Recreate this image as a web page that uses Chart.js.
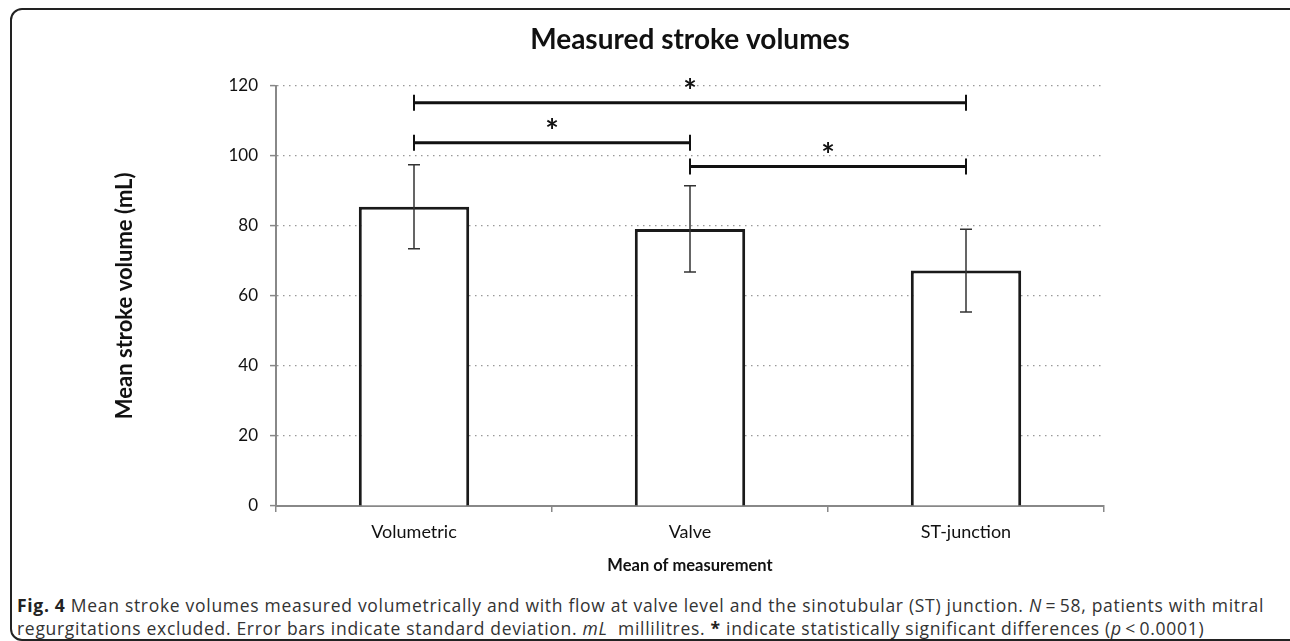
<!DOCTYPE html>
<html>
<head>
<meta charset="utf-8">
<script src="https://cdn.jsdelivr.net/npm/chart.js@4"></script>
<style>
    body { margin: 0; background: #fff; width: 1290px; height: 641px; overflow: hidden; position: relative; }
    .frame { position: absolute; left: 10px; top: 8px; width: 1300px; height: 633px; box-sizing: border-box;
             border: 2px solid #222; border-radius: 12px; }
    #wrap { position: absolute; left: 0; top: 0; width: 1290px; height: 590px; }
    .caption { position: absolute; left: 17px; font-family: 'Open Sans', sans-serif; font-size: 17.5px;
               letter-spacing: 0.7px; color: #333; white-space: nowrap; line-height: 22px; }
</style>
</head>
<body>
<div class="frame"></div>
<div id="wrap"><canvas id="chart"></canvas></div>
<div class="caption" style="top:594px"><b style="color:#222">Fig. 4</b> Mean stroke volumes measured volumetrically and with flow at valve level and the sinotubular (ST) junction. <i>N</i>&thinsp;=&thinsp;58, patients with mitral</div>
<div class="caption" style="top:617px">regurgitations excluded. Error bars indicate standard deviation. <i>mL</i>&nbsp; millilitres. <b style="color:#222">*</b> indicate statistically significant differences (<i>p</i>&thinsp;&lt;&thinsp;0.0001)</div>
<script>
    const categories = ['Volumetric', 'Valve', 'ST-junction'];
    const meanVolumes = [85.4, 79.1, 67.2];
    const sdVolumes = [12.0, 12.3, 11.8];
    // significance brackets: from category, to category, height (mL)
    const bracketFrom = [0, 0, 1];
    const bracketTo = [2, 1, 2];
    const bracketLevel = [115.1, 103.7, 96.9];

    const chartFont = "Lato, 'Open Sans', sans-serif";

    const errorBars = {
        id: 'errorBars',
        afterDatasetsDraw(chart) {
            const ctx = chart.ctx;
            const x = chart.scales.x;
            const y = chart.scales.y;
            ctx.save();
            ctx.strokeStyle = '#333';
            ctx.lineWidth = 1.5;
            meanVolumes.forEach(function (m, i) {
                let cx = x.getPixelForValue(i);
                let top = y.getPixelForValue(m + sdVolumes[i]);
                let bot = y.getPixelForValue(m - sdVolumes[i]);
                ctx.beginPath();
                ctx.moveTo(cx, top); ctx.lineTo(cx, bot);
                ctx.moveTo(cx - 6, top); ctx.lineTo(cx + 6, top);
                ctx.moveTo(cx - 6, bot); ctx.lineTo(cx + 6, bot);
                ctx.stroke();
            });
            // brackets
            ctx.strokeStyle = '#111';
            ctx.fillStyle = '#111';
            ctx.font = "bold 32px " + chartFont;
            ctx.textAlign = 'center';
            ctx.textBaseline = 'middle';
            bracketLevel.forEach(function (lvl, i) {
                let x1 = x.getPixelForValue(bracketFrom[i]);
                let x2 = x.getPixelForValue(bracketTo[i]);
                let py = y.getPixelForValue(lvl);
                ctx.lineWidth = 3;
                ctx.beginPath();
                ctx.moveTo(x1, py); ctx.lineTo(x2, py);
                ctx.stroke();
                ctx.lineWidth = 2;
                ctx.beginPath();
                ctx.moveTo(x1, py - 8); ctx.lineTo(x1, py + 8);
                ctx.moveTo(x2, py - 8); ctx.lineTo(x2, py + 8);
                ctx.stroke();
                ctx.fillText('*', (x1 + x2) / 2, py - 10);
            });
            ctx.restore();
        }
    };

    const data = {
        labels: categories,
        datasets: [{
            data: meanVolumes,
            backgroundColor: '#ffffff',
            borderColor: '#1a1a1a',
            borderWidth: 3,
            categoryPercentage: 1,
            barPercentage: 0.4,
        }]
    };

    new Chart(document.getElementById('chart'), {
        type: 'bar',
        data: data,
        plugins: [errorBars],
        options: {
            responsive: true,
            maintainAspectRatio: false,
            animation: false,
            events: [],
            layout: { padding: { left: 0, right: 186, top: 0, bottom: 0 } },
            plugins: {
                legend: { display: false },
                tooltip: { enabled: false },
                title: {
                    display: true,
                    fullSize: false,
                    text: 'Measured stroke volumes',
                    color: '#111',
                    padding: { top: 23, bottom: 29 },
                    font: { size: 28, weight: 'bold', family: chartFont, lineHeight: 1.2 }
                }
            },
            scales: {
                x: {
                    afterFit: function (scale) { scale.height = 84; },
                    border: { color: '#888', width: 2 },
                    grid: { display: true, drawOnChartArea: false, tickLength: 6, tickColor: '#888', lineWidth: 1.5, color: '#888' },
                    ticks: { color: '#111', padding: 9, font: { size: 18, family: chartFont } },
                    title: {
                        display: true,
                        text: 'Mean of measurement',
                        color: '#111',
                        padding: { top: 4, bottom: 14 },
                        font: { size: 16.5, weight: 'bold', family: chartFont }
                    }
                },
                y: {
                    min: 0,
                    max: 120,
                    afterFit: function (scale) { scale.width = 276; },
                    border: { color: '#888', width: 2, dash: [1.5, 4.5] },
                    grid: {
                        color: '#999',
                        lineWidth: 1.2,
                        tickLength: 6,
                        tickColor: '#888',
                        tickBorderDash: [],
                        tickWidth: 1.5
                    },
                    ticks: { stepSize: 20, color: '#111', padding: 12, font: { size: 17, family: chartFont } },
                    title: {
                        display: true,
                        text: 'Mean stroke volume (mL)',
                        color: '#111',
                        padding: { top: 112, bottom: 0 },
                        font: { size: 22, weight: 'bold', family: chartFont }
                    }
                }
            }
        }
    });
</script>
</body>
</html>
